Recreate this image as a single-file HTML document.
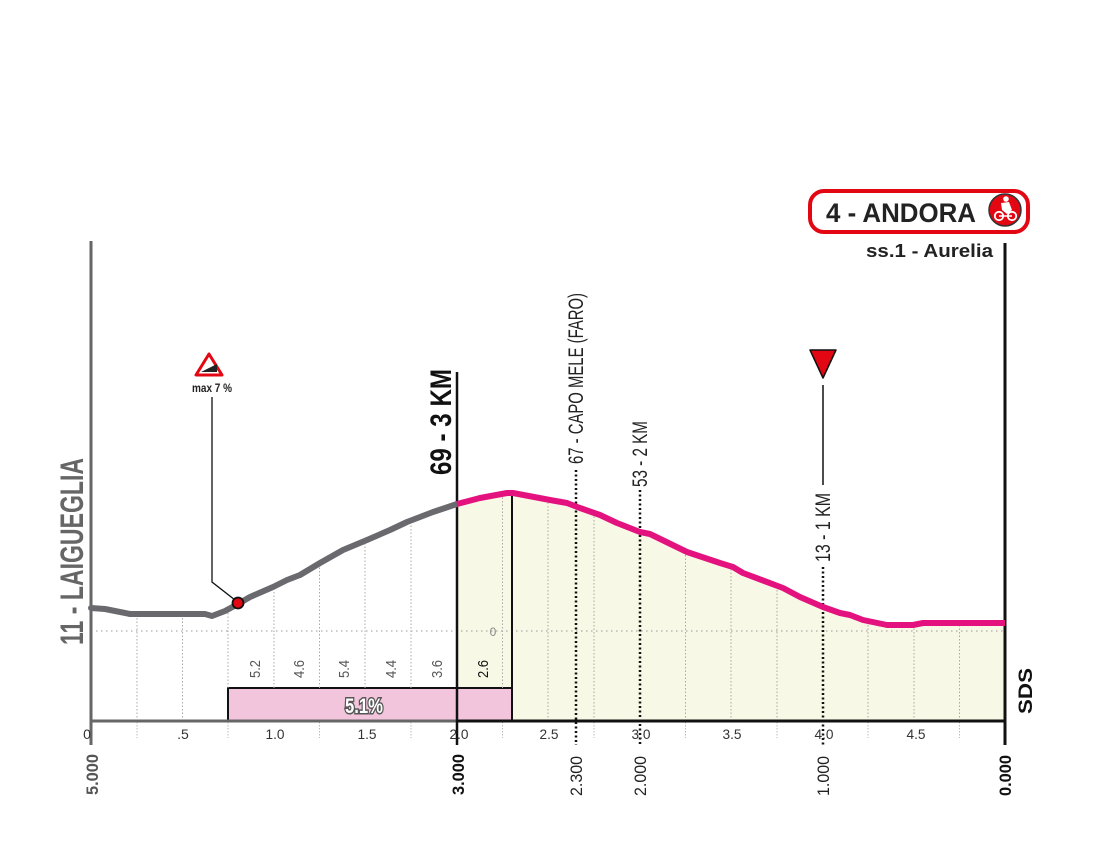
<!DOCTYPE html>
<html>
<head>
<meta charset="utf-8">
<style>
html,body{margin:0;padding:0;background:#fff;}
svg{display:block;}
text{font-family:"Liberation Sans", sans-serif;}
</style>
</head>
<body>
<svg width="1099" height="852" viewBox="0 0 1099 852" xmlns="http://www.w3.org/2000/svg">
  <rect x="0" y="0" width="1099" height="852" fill="#fff"/>

  <!-- yellow area under pink profile -->
  <polygon fill="#f7f8e5" points="457,504 480,498 507,493 513,493 550,500 567,503 580,508 600,515 617,523 640,532 650,534 687,552 720,563 733,567 743,573 783,588 800,597 823,607 840,613 850,615 863,620 887,625 913,625 923,623 1005,623 1005,721 457,721"/>

  <!-- gradient box -->
  <rect x="228" y="688" width="284" height="33" fill="#f3c5dc" stroke="#111" stroke-width="2"/>

  <!-- zero line -->
  <line x1="91" y1="631" x2="1005" y2="631" stroke="#999" stroke-width="1" stroke-dasharray="1.5 3.5"/>
  <text x="493" y="636" font-size="12" fill="#888" text-anchor="middle">0</text>

  <!-- vertical grid lines -->
  <g stroke="#a8a8a8" stroke-width="1" stroke-dasharray="1.5 2">
    <line x1="137" y1="721" x2="137" y2="617"/>
    <line x1="182.5" y1="721" x2="182.5" y2="617"/>
    <line x1="228" y1="688" x2="228" y2="613"/>
    <line x1="274" y1="688" x2="274" y2="590"/>
    <line x1="319.5" y1="688" x2="319.5" y2="566"/>
    <line x1="365" y1="688" x2="365" y2="544"/>
    <line x1="411" y1="688" x2="411" y2="524"/>
    <line x1="502.5" y1="688" x2="502.5" y2="497"/>
    <line x1="548" y1="721" x2="548" y2="503"/>
    <line x1="685.5" y1="721" x2="685.5" y2="554"/>
    <line x1="731" y1="721" x2="731" y2="569"/>
    <line x1="777" y1="721" x2="777" y2="589"/>
    <line x1="868" y1="721" x2="868" y2="624"/>
    <line x1="914" y1="721" x2="914" y2="628"/>
    <line x1="959.5" y1="721" x2="959.5" y2="626"/>
    <line x1="594" y1="721" x2="594" y2="516"/>
  </g>
  <!-- ticks below baseline -->
  <g stroke="#bbb" stroke-width="1" stroke-dasharray="1.5 1.5">
    <line x1="137" y1="722" x2="137" y2="738"/>
    <line x1="228" y1="722" x2="228" y2="738"/>
    <line x1="319.5" y1="722" x2="319.5" y2="738"/>
    <line x1="411" y1="722" x2="411" y2="738"/>
    <line x1="502.5" y1="722" x2="502.5" y2="738"/>
    <line x1="594" y1="722" x2="594" y2="738"/>
    <line x1="685.5" y1="722" x2="685.5" y2="738"/>
    <line x1="777" y1="722" x2="777" y2="738"/>
    <line x1="868" y1="722" x2="868" y2="738"/>
    <line x1="959.5" y1="722" x2="959.5" y2="738"/>
  </g>

  <!-- baseline -->
  <line x1="91" y1="721" x2="457" y2="721" stroke="#666" stroke-width="3"/>
  <line x1="457" y1="721" x2="1005" y2="721" stroke="#111" stroke-width="3"/>

  <!-- axes -->
  <line x1="91" y1="241" x2="91" y2="745" stroke="#666" stroke-width="3"/>
  <line x1="1005" y1="243" x2="1005" y2="745" stroke="#111" stroke-width="3"/>
  <line x1="457" y1="372" x2="457" y2="745" stroke="#111" stroke-width="2.5"/>
  <line x1="512" y1="493" x2="512" y2="721" stroke="#111" stroke-width="2"/>

  <!-- dotted black markers -->
  <g stroke="#111" stroke-width="2.5" stroke-dasharray="2 2.5">
    <line x1="576" y1="470" x2="576" y2="745"/>
    <line x1="640" y1="490" x2="640" y2="745"/>
    <line x1="823" y1="567" x2="823" y2="745"/>
  </g>

  <!-- profile lines -->
  <polyline fill="none" stroke="#6a696d" stroke-width="6" stroke-linejoin="round" stroke-linecap="round" points="91,608 105,609 130,614 205,614 212,616 225,611 238,604 250,597 273,587 287,580 300,575 320,563 343,550 367,540 390,530 407,522 433,512 457,504"/>
  <polyline fill="none" stroke="#e3127f" stroke-width="6" stroke-linejoin="round" points="457,504 480,498 507,493 513,493 550,500 567,503 580,508 600,515 617,523 640,532 650,534 687,552 720,563 733,567 743,573 783,588 800,597 823,607 840,613 850,615 863,620 887,625 913,625 923,623 1005,623"/>

  <!-- max 7% marker -->
  <polyline fill="none" stroke="#111" stroke-width="1.3" points="212,397 212,582 235,600"/>
  <circle cx="238" cy="603" r="5.5" fill="#e30613" stroke="#111" stroke-width="1.8"/>
  <polygon points="209,354 196,375 222,375" fill="#fff" stroke="#e30613" stroke-width="3" stroke-linejoin="round"/>
  <polygon points="201,372 217,372 217,364" fill="#222"/>
  <text x="212" y="392" font-size="12" font-weight="bold" fill="#222" text-anchor="middle" textLength="40" lengthAdjust="spacingAndGlyphs">max 7 %</text>

  <!-- 1 KM triangle -->
  <polygon points="810,350 836,350 823,378" fill="#e30613" stroke="#111" stroke-width="1.5" stroke-linejoin="round"/>
  <line x1="823" y1="385" x2="823" y2="485" stroke="#111" stroke-width="1.5"/>

  <!-- rotated labels -->
  <text transform="translate(83,645) rotate(-90)" font-size="32" font-weight="bold" fill="#666" textLength="187" lengthAdjust="spacingAndGlyphs">11 - LAIGUEGLIA</text>
  <text transform="translate(451,475) rotate(-90)" font-size="30" font-weight="bold" fill="#111" textLength="106" lengthAdjust="spacingAndGlyphs">69 - 3 KM</text>
  <text transform="translate(583,464) rotate(-90)" font-size="21" fill="#222" textLength="171" lengthAdjust="spacingAndGlyphs">67 - CAPO MELE (FARO)</text>
  <text transform="translate(647,487) rotate(-90)" font-size="21" fill="#222" textLength="66" lengthAdjust="spacingAndGlyphs">53 - 2 KM</text>
  <text transform="translate(830,562) rotate(-90)" font-size="21" fill="#222" textLength="69" lengthAdjust="spacingAndGlyphs">13 - 1 KM</text>

  <!-- gradient labels -->
  <g font-size="15" fill="#555">
    <text transform="translate(260,678) rotate(-90)" textLength="18" lengthAdjust="spacingAndGlyphs">5.2</text>
    <text transform="translate(304,678) rotate(-90)" textLength="18" lengthAdjust="spacingAndGlyphs">4.6</text>
    <text transform="translate(349,678) rotate(-90)" textLength="18" lengthAdjust="spacingAndGlyphs">5.4</text>
    <text transform="translate(396,678) rotate(-90)" textLength="18" lengthAdjust="spacingAndGlyphs">4.4</text>
    <text transform="translate(442,678) rotate(-90)" textLength="18" lengthAdjust="spacingAndGlyphs">3.6</text>
    <text transform="translate(488,678) rotate(-90)" textLength="18" lengthAdjust="spacingAndGlyphs" fill="#111">2.6</text>
  </g>
  <text x="364" y="713" font-size="21" font-weight="bold" fill="#fff" stroke="#555" stroke-width="3" paint-order="stroke" text-anchor="middle" textLength="38" lengthAdjust="spacingAndGlyphs">5.1%</text>

  <!-- x axis labels -->
  <g font-size="14" fill="#333" text-anchor="middle">
    <text x="87" y="739">0</text>
    <text x="183" y="739">.5</text>
    <text x="275" y="739" textLength="19" lengthAdjust="spacingAndGlyphs">1.0</text>
    <text x="367" y="739" textLength="19" lengthAdjust="spacingAndGlyphs">1.5</text>
    <text x="459" y="739" textLength="19" lengthAdjust="spacingAndGlyphs">2.0</text>
    <text x="549" y="739" textLength="19" lengthAdjust="spacingAndGlyphs">2.5</text>
    <text x="641" y="739" textLength="19" lengthAdjust="spacingAndGlyphs">3.0</text>
    <text x="732" y="739" textLength="19" lengthAdjust="spacingAndGlyphs">3.5</text>
    <text x="824" y="739" textLength="19" lengthAdjust="spacingAndGlyphs">4.0</text>
    <text x="916" y="739" textLength="19" lengthAdjust="spacingAndGlyphs">4.5</text>
  </g>

  <!-- distance-to-go labels -->
  <g font-size="17">
    <text transform="translate(98,795) rotate(-90)" fill="#555" font-weight="bold" textLength="41" lengthAdjust="spacingAndGlyphs">5.000</text>
    <text transform="translate(464,795) rotate(-90)" fill="#111" font-weight="bold" textLength="41" lengthAdjust="spacingAndGlyphs">3.000</text>
    <text transform="translate(582,796) rotate(-90)" fill="#222" textLength="40" lengthAdjust="spacingAndGlyphs">2.300</text>
    <text transform="translate(646,796) rotate(-90)" fill="#222" textLength="40" lengthAdjust="spacingAndGlyphs">2.000</text>
    <text transform="translate(829,796) rotate(-90)" fill="#222" textLength="40" lengthAdjust="spacingAndGlyphs">1.000</text>
    <text transform="translate(1011,796) rotate(-90)" fill="#111" font-weight="bold" textLength="41" lengthAdjust="spacingAndGlyphs">0.000</text>
  </g>

  <!-- SDS -->
  <text transform="translate(1032,714) rotate(-90)" font-size="19" font-weight="bold" fill="#111" textLength="46" lengthAdjust="spacingAndGlyphs">SDS</text>

  <!-- Andora box -->
  <rect x="810" y="191" width="218" height="41" rx="14" ry="14" fill="#fff" stroke="#e30613" stroke-width="4"/>
  <text x="826" y="222" font-size="27" font-weight="bold" fill="#222" textLength="150" lengthAdjust="spacingAndGlyphs">4 - ANDORA</text>
  <circle cx="1005" cy="210" r="16" fill="#e30613" stroke="#333" stroke-width="1.5"/>
  <circle cx="1006" cy="199" r="2.8" fill="#fff"/>
  <path d="M1001,203 L1009,202 L1012,210 L1007,214 L1002,210 Z" fill="#fff"/>
  <circle cx="999" cy="216" r="4.2" fill="none" stroke="#fff" stroke-width="1.8"/>
  <circle cx="1012" cy="216" r="4.2" fill="none" stroke="#fff" stroke-width="1.8"/>
  <line x1="999" y1="216" x2="1012" y2="216" stroke="#fff" stroke-width="1.5"/>
  <text x="993" y="257" font-size="18" font-weight="bold" fill="#222" text-anchor="end" textLength="127" lengthAdjust="spacingAndGlyphs">ss.1 - Aurelia</text>
</svg>
</body>
</html>
